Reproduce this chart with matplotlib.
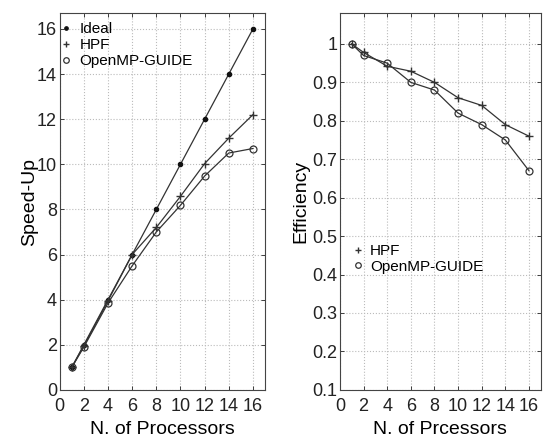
import matplotlib
matplotlib.use("Agg")
import matplotlib.pyplot as plt
from matplotlib.ticker import FormatStrFormatter

plt.rcParams['font.family'] = ['Liberation Sans', 'DejaVu Sans']

# processors
procs = [1, 2, 4, 6, 8, 10, 12, 14, 16]

# speed-up
ideal = [1, 2, 4, 6, 8, 10, 12, 14, 16]
hpf_speed = [1.0, 1.95, 3.95, 6.0, 7.2, 8.58, 10.03, 11.16, 12.2]
omp_speed = [1.0, 1.9, 3.85, 5.5, 7.0, 8.18, 9.48, 10.5, 10.7]

# efficiency
hpf_eff = [1.0, 0.978, 0.942, 0.929, 0.90, 0.86, 0.84, 0.79, 0.76]
omp_eff = [1.0, 0.97, 0.95, 0.90, 0.88, 0.82, 0.79, 0.75, 0.67]

xticks = [0, 2, 4, 6, 8, 10, 12, 14, 16]

line_col = '#333333'

fig = plt.figure(figsize=(5.43, 4.4), dpi=100)
ax1 = fig.add_axes([0.110, 0.114, 0.378, 0.856])
ax2 = fig.add_axes([0.626, 0.114, 0.370, 0.856])

def style(ax):
    ax.grid(True, linestyle=':', color='#bbbbbb', linewidth=0.8)
    ax.tick_params(direction='in', top=True, right=True, labelsize=13, length=3, width=0.6,
                   colors='#222222', pad=2)
    ax.tick_params(axis='x', pad=6)
    for s in ax.spines.values():
        s.set_linewidth(0.8)
        s.set_color('#444444')
    ax.set_xticks(xticks)
    ax.set_xlim(0, 17)

# left: speed-up
ax1.plot(procs, ideal, color=line_col, lw=0.9, marker='.', ms=6, mfc='#111111', mec='#111111', label='Ideal')
ax1.plot(procs, hpf_speed, color=line_col, lw=0.9, marker='+', ms=6, mew=1.0, label='HPF')
ax1.plot(procs, omp_speed, color=line_col, lw=0.9, marker='o', ms=5, mfc='none', mew=0.9, label='OpenMP-GUIDE')
style(ax1)
ax1.set_ylim(0, 16.7)
ax1.set_yticks(range(0, 17, 2))
ax1.set_xlabel('N. of Processors', fontsize=14, labelpad=4)
ax1.set_ylabel('Speed-Up', fontsize=14, labelpad=-1)
leg1 = ax1.legend(loc='upper left', bbox_to_anchor=(0.008, 0.976), frameon=False, fontsize=11,
                  handlelength=0.6, handletextpad=0.6, borderaxespad=0, borderpad=0,
                  labelspacing=0.12, markerscale=0.8)
for h in leg1.legend_handles:
    h.set_linestyle('none')

# right: efficiency
ax2.plot(procs, hpf_eff, color=line_col, lw=0.9, marker='+', ms=6, mew=1.0, label='HPF')
ax2.plot(procs, omp_eff, color=line_col, lw=0.9, marker='o', ms=5, mfc='none', mew=0.9, label='OpenMP-GUIDE')
style(ax2)
ax2.set_ylim(0.1, 1.08)
ax2.set_yticks([0.1, 0.2, 0.3, 0.4, 0.5, 0.6, 0.7, 0.8, 0.9, 1.0])
ax2.yaxis.set_major_formatter(FormatStrFormatter('%g'))
ax2.set_xlabel('N. of Prcessors', fontsize=14, labelpad=4)
ax2.set_ylabel('Efficiency', fontsize=14, labelpad=2)
leg2 = ax2.legend(loc='upper left', bbox_to_anchor=(0.067, 0.387), frameon=False, fontsize=11,
                  handlelength=0.6, handletextpad=0.5, borderaxespad=0, borderpad=0,
                  labelspacing=0.1, markerscale=0.8)
for h in leg2.legend_handles:
    h.set_linestyle('none')

fig.savefig('out.png', dpi=100)
